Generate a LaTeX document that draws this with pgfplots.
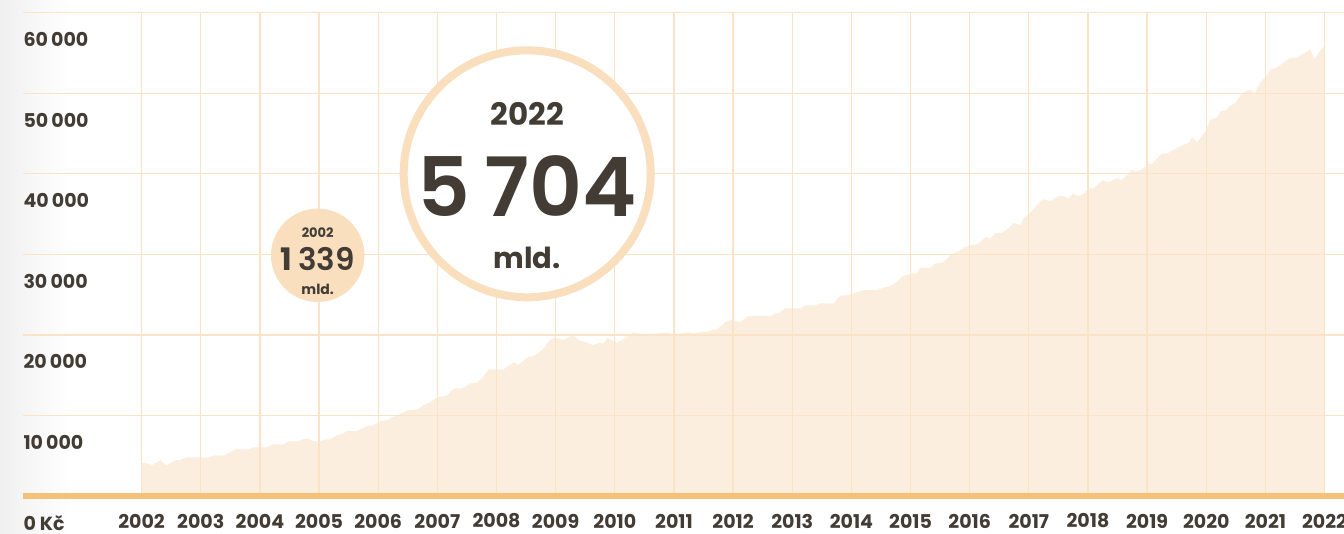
\documentclass[border=0pt]{standalone}
\usepackage{pgfplots}
\pgfplotsset{compat=1.18}
\usepackage{fontspec}
\setmainfont{Poppins}
\newfontfamily\popsemi{Poppins}[UprightFont=* SemiBold]
\definecolor{txt}{HTML}{433C35}
\definecolor{gridc}{HTML}{FAE3C6}
\definecolor{fillc}{HTML}{FCEEDE}
\definecolor{basec}{HTML}{F5C179}
\definecolor{circc}{HTML}{F9DFBE}
\begin{document}
\begin{tikzpicture}[x=1pt,y=1pt]
\useasboundingbox (0,0) rectangle (1344,533);
\clip (0,0) rectangle (1344,533);
\fill[white] (0,0) rectangle (1344,533);
\shade[left color=black!6, right color=white] (0,0) rectangle (70,533);
\begin{axis}[
  at={(23.3pt,37pt)}, anchor=south west,
  scale only axis, width=1320.7pt, height=483.3pt,
  xmin=2000, xmax=2022.328, ymin=0, ymax=60000,
  scaled y ticks=false,
  axis line style={draw=none},
  tick style={draw=none},
  axis on top,
  grid=major,
  major grid style={color=gridc, line width=1.3pt},
  xtick={2002,2003,...,2022},
  xticklabels={2002,2003,2004,2005,2006,2007,2008,2009,2010,2011,2012,2013,2014,2015,2016,2017,2018,2019,2020,2021,2022},
  ytick={0,10000,...,60000},
  yticklabels={0 Kč,10\,000,20\,000,30\,000,40\,000,50\,000,60\,000},
  xticklabel style={font=\fontsize{19}{21}\selectfont\bfseries, text=txt, anchor=center, yshift=-25pt, inner sep=0pt},
  yticklabel style={font=\fontsize{19}{21}\selectfont\bfseries, text=txt, anchor=west, yshift=-27pt, inner sep=0pt},
]
\addplot[fill=fillc, draw=none] coordinates {
(2002.00,4131)(2002.08,4057)(2002.18,3834)(2002.32,4429)(2002.42,3809)(2002.57,4429)
(2002.65,4467)(2002.77,4802)(2003.13,4802)(2003.25,5050)(2003.39,5050)(2003.50,5422)
(2003.58,5794)(2003.81,5794)(2003.89,6042)(2004.12,6042)(2004.23,6414)(2004.40,6414)
(2004.49,6787)(2004.65,6787)(2004.74,7072)(2004.82,7072)(2004.91,6787)(2005.02,6787)
(2005.11,7035)(2005.19,7035)(2005.30,7531)(2005.42,7779)(2005.46,8065)(2005.64,8065)
(2005.75,8474)(2005.82,8685)(2005.92,8809)(2006.04,9305)(2006.15,9429)(2006.26,9839)
(2006.37,10174)(2006.51,10670)(2006.66,10757)(2006.77,11290)(2006.88,11663)(2007.02,12320)
(2007.15,12407)(2007.25,13151)(2007.30,13362)(2007.42,13362)(2007.56,13983)(2007.67,14057)
(2007.75,14603)(2007.87,15720)(2008.12,15720)(2008.29,16588)(2008.37,16290)(2008.54,17283)
(2008.63,17370)(2008.80,18325)(2008.90,19355)(2008.99,19690)(2009.13,19355)(2009.29,19938)
(2009.39,19355)(2009.53,19020)(2009.63,18735)(2009.73,19020)(2009.82,19020)(2009.88,19603)
(2009.98,19194)(2010.04,19020)(2010.21,19764)(2010.32,20310)(2010.40,20186)(2010.54,20099)
(2010.88,20261)(2010.99,20099)(2011.11,20186)(2011.25,20310)(2011.33,20186)(2011.47,20385)
(2011.56,20385)(2011.67,20682)(2011.73,20682)(2011.90,21750)(2011.98,21836)(2012.12,21626)
(2012.26,22333)(2012.63,22333)(2012.71,22668)(2012.77,22668)(2012.88,23289)(2013.14,23289)
(2013.22,23661)(2013.39,23661)(2013.47,23909)(2013.70,23909)(2013.81,24851)(2013.95,24938)
(2014.07,25223)(2014.21,25558)(2014.43,25558)(2014.52,25807)(2014.66,26055)(2014.77,26588)
(2014.86,27295)(2015.03,27630)(2015.11,27630)(2015.16,28288)(2015.33,28288)(2015.42,28871)
(2015.53,28946)(2015.62,29442)(2015.68,29938)(2015.79,30311)(2015.93,30931)(2016.00,31142)
(2016.12,31266)(2016.18,31551)(2016.28,32172)(2016.35,31923)(2016.43,32594)(2016.55,32668)
(2016.66,33251)(2016.74,33909)(2016.86,33623)(2016.92,34578)(2017.00,34988)(2017.11,35894)
(2017.22,36725)(2017.25,36849)(2017.36,36601)(2017.50,37221)(2017.59,37221)(2017.67,36886)
(2017.75,37557)(2017.84,37221)(2017.93,37557)(2018.01,38176)(2018.09,38176)(2018.25,39206)
(2018.35,38921)(2018.49,39492)(2018.56,39206)(2018.70,40037)(2018.74,40534)(2018.80,40236)
(2018.91,40534)(2019.02,41191)(2019.08,41191)(2019.25,42519)(2019.34,42519)(2019.56,43425)
(2019.70,43834)(2019.76,44504)(2019.84,43921)(2019.98,45199)(2020.07,46737)(2020.18,46986)
(2020.25,47804)(2020.32,47804)(2020.41,48474)(2020.49,48797)(2020.61,50037)(2020.74,50459)
(2020.79,50161)(2020.83,50161)(2020.91,51278)(2021.01,52109)(2021.09,53065)(2021.17,53065)
(2021.30,53760)(2021.42,54430)(2021.53,54430)(2021.64,54926)(2021.76,55422)(2021.83,54181)
(2021.90,55000)(2022.00,56000)
} \closedcycle;
\end{axis}
\draw[basec, line width=5.3pt] (23.3,37) -- (1344,37);
% small bubble
\fill[circc] (317.7,277.7) circle (46.7);
\node[text=txt, font=\fontsize{13}{14}\selectfont\bfseries, inner sep=0pt] at (317.7,300.7) {2002};
\node[text=txt, font=\fontsize{31}{33}\selectfont, inner sep=0pt] at (317.7,273.7) {\textbf{1}\hspace{6pt}{\popsemi 339}};
\node[text=txt, font=\fontsize{14}{15}\selectfont\bfseries, inner sep=0pt] at (317.7,243.7) {mld.};
% big bubble
\filldraw[fill=white, draw=circc, line width=8pt] (527.2,359.2) circle (123.5);
\node[text=txt, font=\fontsize{31}{33}\selectfont\bfseries, inner sep=0pt] at (527.2,419) {2022};
\node[text=txt, font=\fontsize{82}{86}\selectfont\popsemi, inner sep=0pt] at (527.2,347) {5\,704};
\node[text=txt, font=\fontsize{29}{31}\selectfont\bfseries, inner sep=0pt] at (527.2,275) {mld.};
\end{tikzpicture}
\end{document}
